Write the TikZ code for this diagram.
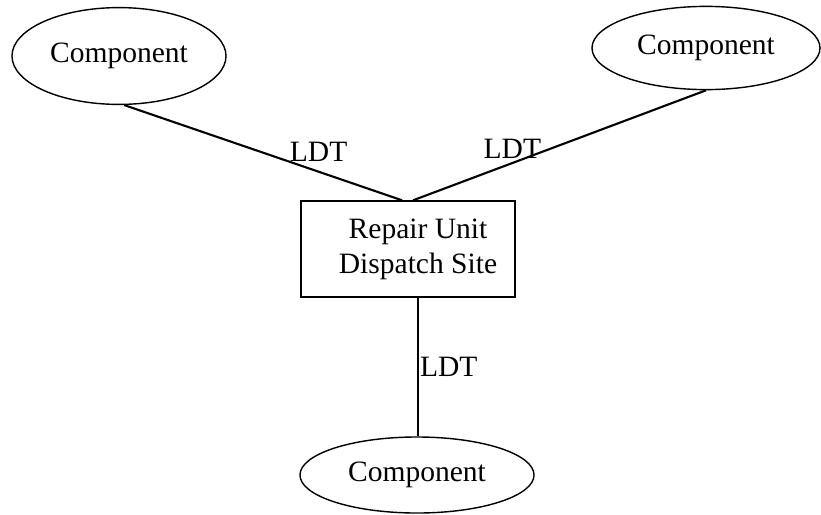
\documentclass[tikz,border=0pt]{standalone}
\usepackage{fontspec}
\setmainfont{Liberation Serif}
\usetikzlibrary{shapes.geometric,positioning}
\begin{document}
\begin{tikzpicture}[x=0.025cm,y=-0.025cm,
  comp/.style={draw,ellipse,line width=1pt,inner sep=0pt,font=\fontsize{21}{25}\selectfont},
  site/.style={draw,rectangle,line width=1pt,align=center,minimum width=5.35cm,minimum height=2.4cm,font=\fontsize{21}{25}\selectfont},
  ldt/.style={font=\fontsize{21}{25}\selectfont,inner sep=1pt}]
\useasboundingbox (0,0) rectangle (821,514);
\node[site] (site) at (408,249) {\hspace*{0.5cm}Repair Unit\\\hspace*{0.5cm}Dispatch Site};
\node[comp,minimum width=5.35cm,minimum height=2.42cm] (left) at (119,56) {Component};
\node[comp,minimum width=5.7cm,minimum height=2.08cm] (right) at (706,48) {Component};
\node[comp,minimum width=5.85cm,minimum height=1.9cm] (bottom) at (417,475) {Component};
\draw[line width=1.5pt] (left.-84) -- (site.97) node[ldt,pos=0.72,above=7pt,xshift=-4pt] {LDT};
\draw[line width=1.5pt] (site.84) -- (right.-90) node[ldt,pos=0.33,above left=2pt and -24pt] {LDT};
\draw[line width=0.9pt] (site.south) ++(10,0) coordinate (s) -- (s |- bottom.north) node[ldt,midway,right=0pt] {LDT};
\end{tikzpicture}
\end{document}
